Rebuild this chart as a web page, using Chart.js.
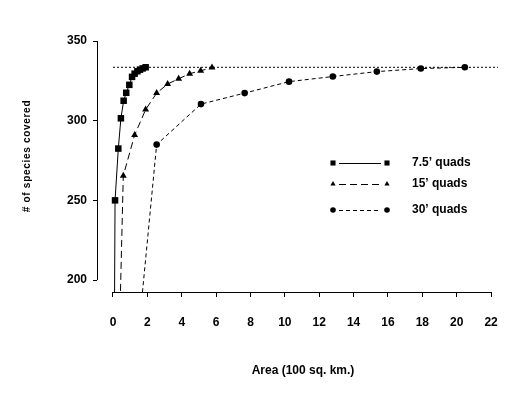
<!DOCTYPE html>
<html>
<head>
<meta charset="utf-8">
<script src="https://cdn.jsdelivr.net/npm/chart.js@4.4.0/dist/chart.umd.min.js"></script>
<style>
  html, body { margin: 0; padding: 0; background: #fff; }
  #wrap { width: 529px; height: 398px; position: relative; }
</style>
</head>
<body>
<div id="wrap"><canvas id="speciesChart"></canvas></div>
<script>
// Area (100 sq. km.) vs # of species; each curve starts from the origin (no marker there)
const quad75Area    = [0, 0.12, 0.31, 0.46, 0.62, 0.77, 0.95, 1.11, 1.26, 1.42, 1.57, 1.73, 1.90];
const quad75Species = [0, 250, 282.5, 301.5, 312.5, 317.5, 322.5, 327.5, 329.5, 331, 332, 332.8, 333.5];

const quad15Area    = [0, 0.60, 1.26, 1.90, 2.54, 3.18, 3.82, 4.46, 5.10, 5.76];
const quad15Species = [0, 265.5, 291, 307, 317.3, 323, 326.3, 329.5, 331.3, 333.3];

const quad30Area    = [0, 2.54, 5.12, 7.66, 10.24, 12.79, 15.35, 17.91, 20.47];
const quad30Species = [0, 285, 310.4, 317.3, 324.5, 327.7, 330.8, 332.7, 333.5];

// dotted reference line for total species
const totalArea    = [0, 22.4];
const totalSpecies = [333.5, 333.5];

const xTickValues = [0, 2, 4, 6, 8, 10, 12, 14, 16, 18, 20, 22];
const yTickValues = [200, 250, 300, 350];

const seriesNames = ["7.5\u2019 quads", "15\u2019 quads", "30\u2019 quads"];

const FONT = "'Liberation Sans', Arial, sans-serif";

function toPoints(xs, ys) {
    return xs.map((x, i) => ({ x: x, y: ys[i] }));
}

// hide the marker on the origin point
const markerSize = (size) => (c) => c.dataIndex === 0 ? 0 : size;

const datasets = [
    {
        label: seriesNames[0],
        data: toPoints(quad75Area, quad75Species),
        showLine: true,
        borderColor: '#000',
        backgroundColor: '#000',
        borderWidth: 1,
        pointStyle: 'rect',
        pointRadius: markerSize(4.6),
        pointBorderWidth: 0,
        legendRadius: 3.6
    },
    {
        label: seriesNames[1],
        data: toPoints(quad15Area, quad15Species),
        showLine: true,
        borderColor: '#000',
        backgroundColor: '#000',
        borderWidth: 1,
        borderDash: [7, 4],
        pointStyle: 'triangle',
        pointRadius: markerSize(4),
        pointBorderWidth: 0,
        legendRadius: 3
    },
    {
        label: seriesNames[2],
        data: toPoints(quad30Area, quad30Species),
        showLine: true,
        borderColor: '#000',
        backgroundColor: '#000',
        borderWidth: 1,
        borderDash: [4, 3],
        pointStyle: 'circle',
        pointRadius: markerSize(3.3),
        pointBorderWidth: 0,
        legendRadius: 2.8
    },
    {
        label: 'total',
        data: toPoints(totalArea, totalSpecies),
        showLine: true,
        borderColor: '#000',
        borderWidth: 1,
        borderDash: [2, 2],
        pointRadius: 0,
        isReference: true
    }
];

// axis lines, titles and the legend drawn by hand (the original uses offset axes)
const decorations = {
    id: 'decorations',
    afterDraw: (chart) => {
        const ctx = chart.ctx;
        const x = chart.scales.x;
        const y = chart.scales.y;
        const area = chart.chartArea;

        ctx.save();
        ctx.strokeStyle = '#000';
        ctx.lineWidth = 1;
        ctx.setLineDash([]);

        // y axis from 200 to 350
        ctx.beginPath();
        ctx.moveTo(Math.round(area.left) + 0.5, y.getPixelForValue(yTickValues[0]));
        ctx.lineTo(Math.round(area.left) + 0.5, y.getPixelForValue(yTickValues[yTickValues.length - 1]));
        ctx.stroke();

        // x axis from 0 to 22
        ctx.beginPath();
        ctx.moveTo(x.getPixelForValue(xTickValues[0]), Math.round(area.bottom) + 0.5);
        ctx.lineTo(x.getPixelForValue(xTickValues[xTickValues.length - 1]), Math.round(area.bottom) + 0.5);
        ctx.stroke();

        // axis titles
        ctx.fillStyle = '#000';
        ctx.textAlign = 'center';
        ctx.textBaseline = 'middle';
        ctx.font = "bold 12px " + FONT;
        ctx.fillText('Area (100 sq. km.)', 303, 371);

        ctx.save();
        ctx.translate(27, 156);
        ctx.rotate(-Math.PI / 2);
        ctx.font = "bold 10px " + FONT;
        ctx.letterSpacing = '0.7px';
        ctx.fillText('# of species covered', 0, 0);
        ctx.restore();

        // legend
        const rows = [163, 184, 210];
        chart.data.datasets.forEach((ds, i) => {
            if (ds.isReference) return;
            const ry = rows[i];
            ctx.setLineDash(ds.borderDash || []);
            ctx.beginPath();
            ctx.moveTo(339, ry + 0.5);
            ctx.lineTo(381, ry + 0.5);
            ctx.stroke();
            ctx.setLineDash([]);
            [333, 387].forEach(px => {
                Chart.helpers.drawPoint(ctx, {
                    pointStyle: ds.pointStyle,
                    radius: ds.legendRadius,
                    rotation: 0,
                    borderWidth: 0
                }, px, ry);
            });
            ctx.textAlign = 'left';
            ctx.font = "bold 12px " + FONT;
            ctx.fillText(ds.label, 412, ry);
        });

        ctx.restore();
    }
};

const ctx = document.getElementById('speciesChart').getContext('2d');

const chart = new Chart(ctx, {
    type: 'scatter',
    data: { datasets: datasets },
    options: {
        responsive: true,
        maintainAspectRatio: false,
        animation: false,
        layout: {
            padding: { top: 41, right: 31, left: 0, bottom: 0 }
        },
        plugins: {
            legend: { display: false },
            tooltip: { enabled: false }
        },
        scales: {
            x: {
                type: 'linear',
                min: -0.93,
                max: 22.4,
                afterFit: (scale) => { scale.height = 106; },
                afterBuildTicks: (axis) => { axis.ticks = xTickValues.map(v => ({ value: v })); },
                border: { display: false },
                grid: {
                    drawOnChartArea: false,
                    drawTicks: true,
                    tickLength: 5,
                    color: '#000'
                },
                ticks: {
                    color: '#000',
                    padding: 18,
                    maxRotation: 0,
                    autoSkip: false,
                    font: { family: FONT, size: 12, weight: 'bold' }
                }
            },
            y: {
                type: 'linear',
                min: 192.5,
                max: 350,
                afterFit: (scale) => { scale.width = 97; },
                afterBuildTicks: (axis) => { axis.ticks = yTickValues.map(v => ({ value: v })); },
                border: { display: false },
                grid: {
                    drawOnChartArea: false,
                    drawTicks: true,
                    tickLength: 4,
                    color: '#000'
                },
                ticks: {
                    color: '#000',
                    padding: 6,
                    autoSkip: false,
                    font: { family: FONT, size: 12, weight: 'bold' }
                }
            }
        }
    },
    plugins: [decorations]
});
</script>
</body>
</html>
